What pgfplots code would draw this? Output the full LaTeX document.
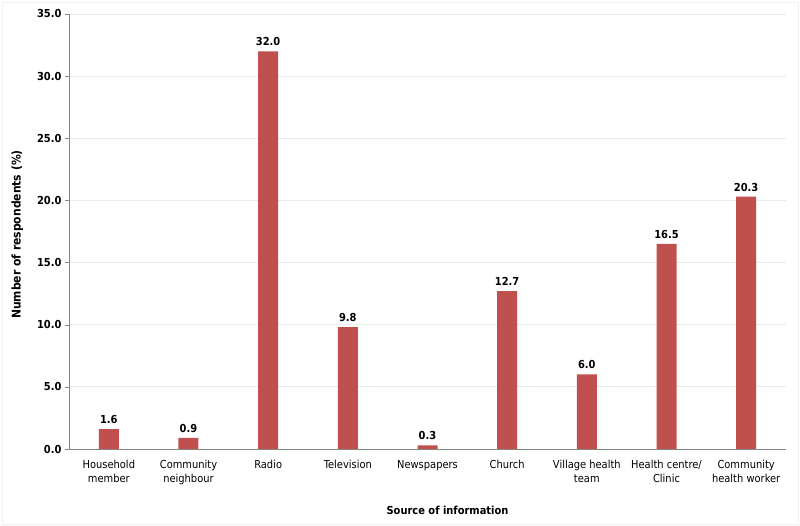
\documentclass[border=0pt]{standalone}
\usepackage{pgfplots}
\pgfplotsset{compat=1.18}
\usepackage{fontspec}
\setmainfont{DejaVu Sans}[FakeStretch=0.9]
\definecolor{barred}{HTML}{C0504D}
\definecolor{gridc}{HTML}{E9E9E9}
\definecolor{axc}{HTML}{868686}
\begin{document}
\begin{tikzpicture}
\useasboundingbox (-69pt,-77pt) rectangle (731pt,449pt);
\draw[gray!12] (-67pt,-75pt) rectangle (729pt,447pt);
\begin{axis}[
  at={(0,0)}, anchor=south west,
  scale only axis, width=717pt, height=435pt,
  xmin=-0.5, xmax=8.5, ymin=0, ymax=35,
  ytick={0,5,...,35},
  xtick={0,...,8},
  xticklabels={Household\\member, Community\\neighbour, Radio, Television, Newspapers, Church, Village health\\team, Health centre/\\Clinic, Community\\health worker},
  axis x line*=bottom, axis y line*=left,
  axis line style={axc, -},
  ymajorgrids, grid style={gridc, line width=0.8pt},
  x tick style={draw=none},
  y tick style={axc}, tick align=outside, major tick length=4pt,
  xticklabel style={align=center, font=\fontsize{11}{14}\selectfont, yshift=-4pt},
  yticklabel style={font=\fontsize{11}{12}\selectfont\bfseries},
  /pgf/number format/assume math mode=true,
  yticklabel={\pgfmathprintnumber[fixed, fixed zerofill, precision=1]{\tick}},
  xlabel={Source of information},
  ylabel={Number of respondents (\%)},
  xlabel style={font=\fontsize{11}{12}\selectfont\bfseries, xshift=20pt, yshift=-14pt},
  ylabel style={font=\fontsize{12}{13}\selectfont\bfseries, yshift=7pt, xshift=-3pt},
  nodes near coords,
  nodes near coords style={font=\fontsize{11}{12}\selectfont\bfseries, yshift=2pt, /pgf/number format/fixed, /pgf/number format/fixed zerofill, /pgf/number format/precision=1, /pgf/number format/assume math mode=true},
]
\addplot[ybar, bar width=20pt, fill=barred, draw=none] coordinates {
(0,1.6) (1,0.9) (2,32.0) (3,9.8) (4,0.3) (5,12.7) (6,6.0) (7,16.5) (8,20.3)
};
\end{axis}
\end{tikzpicture}
\end{document}
